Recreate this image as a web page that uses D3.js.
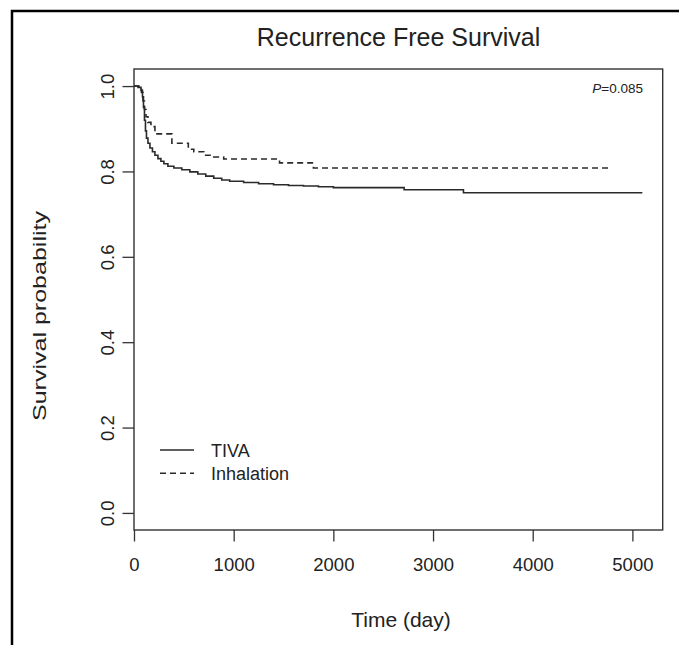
<!doctype html>
<html lang="en">
<head>
  <meta charset="utf-8">
  <title>Recurrence Free Survival</title>
  <style>
    body { margin: 0; background: #fff; }
    svg { display: block; font-family: "Liberation Sans", Arial, sans-serif; }
  </style>
</head>
<body>
  <script src="https://cdn.jsdelivr.net/npm/d3@7"></script>
  <svg id="chart" width="679" height="645"></svg>
  <script>
    // Kaplan-Meier steps (time in days, survival probability)
    var tivaTime = [0, 40, 70, 85, 95, 105, 115, 125, 140, 160, 185, 210, 240, 270, 300, 340, 400, 480, 560, 640, 720, 800, 880, 960, 1100, 1250, 1400, 1550, 1700, 1850, 2000, 2710, 3305, 5100];
    var tivaSurv = [1.000, 0.997, 0.990, 0.975, 0.950, 0.920, 0.895, 0.878, 0.866, 0.855, 0.846, 0.838, 0.830, 0.824, 0.818, 0.812, 0.808, 0.804, 0.799, 0.794, 0.789, 0.784, 0.780, 0.777, 0.774, 0.771, 0.769, 0.767, 0.766, 0.764, 0.762, 0.757, 0.750, 0.750];
    var inhTime = [0, 50, 75, 90, 105, 120, 140, 170, 210, 380, 545, 600, 700, 800, 900, 1460, 1800, 4760];
    var inhSurv = [1.000, 0.995, 0.985, 0.965, 0.945, 0.928, 0.915, 0.905, 0.888, 0.866, 0.852, 0.846, 0.838, 0.834, 0.829, 0.820, 0.808, 0.808];

    var xTicks = [0, 1000, 2000, 3000, 4000, 5000];
    var yTicks = [0, 0.2, 0.4, 0.6, 0.8, 1.0];
    var groups = ["TIVA", "Inhalation"];

    var svg = d3.select("#chart");

    // plot region (R style, 4% padding on y)
    var x = d3.scaleLinear().domain([0, 5304]).range([134, 662.7]);
    var y = d3.scaleLinear().domain([-0.04, 1.04]).range([530, 69]);

    // outer frame of the figure
    svg.append("path")
      .attr("d", "M12,645V11H679")
      .attr("fill", "none")
      .attr("stroke", "#000")
      .attr("stroke-width", 2.5);

    // title
    svg.append("text")
      .attr("x", 398.5).attr("y", 46)
      .attr("text-anchor", "middle")
      .style("font-size", "25px")
      .attr("fill", "#222")
      .text("Recurrence Free Survival");

    // axes
    var xAxis = svg.append("g")
      .attr("transform", "translate(0,530)")
      .call(d3.axisBottom(x).tickValues(xTicks).tickSize(11.5).tickPadding(16).tickFormat(d3.format("d")));
    var yAxis = svg.append("g")
      .attr("transform", "translate(134,0)")
      .call(d3.axisLeft(y).tickValues(yTicks).tickSize(11.5).tickPadding(8).tickFormat(d3.format(".1f")));

    [xAxis, yAxis].forEach(g => {
      g.select(".domain").remove();
      g.selectAll(".tick line").attr("stroke", "#333").attr("stroke-width", 1.3);
      g.selectAll("text").attr("fill", "#222").style("font-size", "18.5px");
    });

    // rotated y tick labels like R's default
    yAxis.selectAll(".tick text")
      .attr("x", null).attr("dy", null)
      .attr("text-anchor", "middle")
      .attr("transform", "translate(-20,0) rotate(-90)");

    // box
    svg.append("rect")
      .attr("x", x(0)).attr("y", 69)
      .attr("width", 662.7 - 134).attr("height", 530 - 69)
      .attr("fill", "none")
      .attr("stroke", "#333")
      .attr("stroke-width", 1.4);

    // axis titles
    svg.append("text")
      .attr("x", 401).attr("y", 627)
      .attr("text-anchor", "middle")
      .style("font-size", "21px")
      .attr("fill", "#222")
      .text("Time (day)");

    svg.append("text")
      .attr("transform", "translate(46,316) rotate(-90)")
      .attr("text-anchor", "middle")
      .style("font-size", "19px")
      .attr("textLength", 210)
      .attr("lengthAdjust", "spacingAndGlyphs")
      .attr("fill", "#222")
      .text("Survival probability");

    // survival curves
    var line = d3.line()
      .x(d => x(d[0]))
      .y(d => y(d[1]))
      .curve(d3.curveStepAfter);

    var tiva = tivaTime.map((t, i) => [t, tivaSurv[i]]);
    var inh = inhTime.map((t, i) => [t, inhSurv[i]]);

    svg.append("path")
      .datum(inh)
      .attr("d", line)
      .attr("fill", "none")
      .attr("stroke", "#2a2a2a")
      .attr("stroke-width", 1.6)
      .attr("stroke-dasharray", "6,4");

    svg.append("path")
      .datum(tiva)
      .attr("d", line)
      .attr("fill", "none")
      .attr("stroke", "#2a2a2a")
      .attr("stroke-width", 1.6);

    // p value
    var pText = svg.append("text")
      .attr("x", 643).attr("y", 93)
      .attr("text-anchor", "end")
      .style("font-size", "13.5px")
      .attr("fill", "#222");
    pText.append("tspan").style("font-style", "italic").text("P");
    pText.append("tspan").text("=0.085");

    // legend
    var legend = svg.append("g");
    groups.forEach((g, i) => {
      var ly = 450 + i * 23.3;
      legend.append("line")
        .attr("x1", 160).attr("x2", 194)
        .attr("y1", ly).attr("y2", ly)
        .attr("stroke", "#2a2a2a")
        .attr("stroke-width", 1.6)
        .attr("stroke-dasharray", i === 1 ? "6,4" : null);
      legend.append("text")
        .attr("x", 211).attr("y", ly + 7)
        .style("font-size", "18px")
        .attr("fill", "#222")
        .text(g);
    });
  </script>
</body>
</html>
